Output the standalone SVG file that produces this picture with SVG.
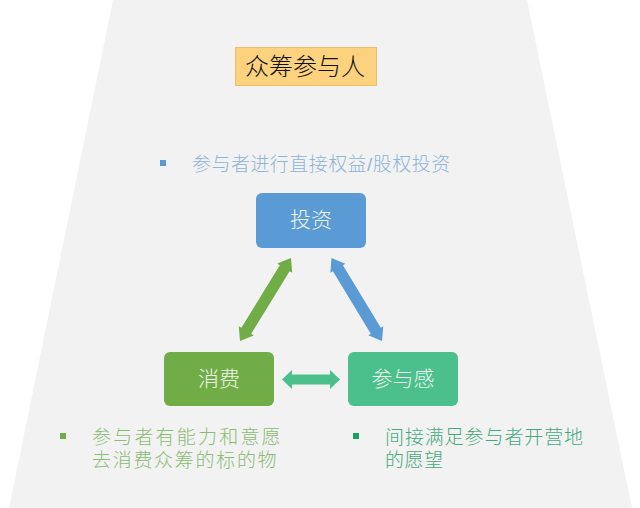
<svg xmlns="http://www.w3.org/2000/svg" width="640" height="508" viewBox="0 0 640 508">
<style>
text{font-family:"Liberation Sans","Noto Sans CJK SC",sans-serif;font-weight:300}
.n{font-size:21px;fill:#eef5ea;text-anchor:middle}
.b{font-size:19px}
.blue{fill:#8db5d8}
.green{fill:#8cbb75}
.teal{fill:#45a97c}
</style>
<rect width="640" height="508" fill="#fff"/>
<polygon points="113,0 527,0 632,508 9,508" fill="#f2f2f3"/>
<g id="title"><rect x="235.500" y="47.500" width="141" height="38" fill="#fdd27f" stroke="#f2bd68"/><text x="305" y="75" font-size="24" fill="#111" text-anchor="middle">众筹参与人</text></g>
<g id="bullet-invest"><rect x="160" y="160" width="6" height="6" fill="#5b9bd5"/><text class="b blue" x="192" y="171" style="letter-spacing:.45px">参与者进行直接权益/股权投资</text></g>
<g id="connectors">
<polygon points="291,258 292.200,272.800 289.600,271.200 251.200,333.800 253.700,335.400 240,341 238.800,326.200 241.400,327.800 279.800,265.200 277.300,263.600" fill="#70ad47"/>
<polygon points="331.500,258 345.400,263.800 342.900,265.300 380.800,327.700 383.300,326.200 382,341 368.300,335.200 370.800,333.700 332.900,271.300 330.400,272.800" fill="#5b9bd5"/>
<polygon points="282,379.500 292,370 292,374.500 330,374.500 330,370 340,379.500 330,389 330,384.500 292,384.500 292,389" fill="#4bc08d"/>
</g>
<g id="invest"><rect x="256" y="193" width="110" height="55" rx="6" fill="#5b9bd5"/><text class="n" x="311" y="227">投资</text></g>
<g id="consume"><rect x="164" y="352" width="110" height="54" rx="6" fill="#70ad47"/><text class="n" x="219" y="386">消费</text></g>
<g id="participate"><rect x="348" y="352" width="110" height="54" rx="6" fill="#4bc08d"/><text class="n" x="403" y="386">参与感</text></g>
<g id="bullet-consume"><rect x="60" y="433" width="6" height="6" fill="#70ad47"/><text class="b green"><tspan x="92" y="444" style="letter-spacing:2.200px">参与者有能力和意愿</tspan><tspan x="92" y="467" style="letter-spacing:1.700px">去消费众筹的标的物</tspan></text></g>
<g id="bullet-participate"><rect x="353" y="433" width="6" height="6" fill="#1aa35d"/><text class="b teal"><tspan x="385" y="444" style="letter-spacing:.9px">间接满足参与者开营地</tspan><tspan x="385" y="467" style="letter-spacing:.5px">的愿望</tspan></text></g>
</svg>
